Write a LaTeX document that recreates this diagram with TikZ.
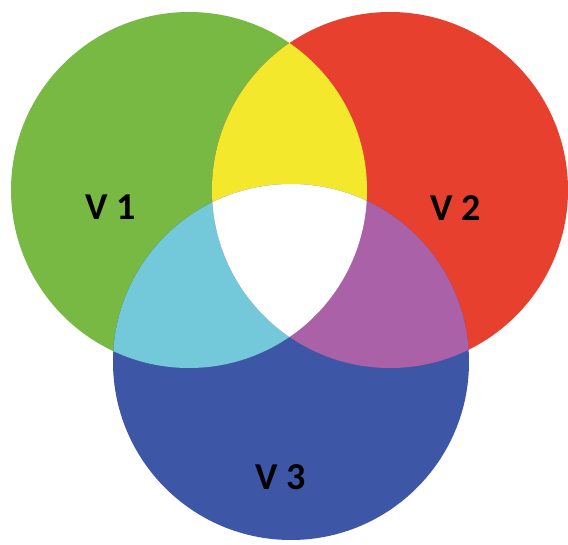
\documentclass[tikz,border=0pt]{standalone}
\usepackage{fontspec}
\setmainfont{Carlito}
\usepackage{tikz}

\definecolor{vgreen}{HTML}{77B943}
\definecolor{vred}{HTML}{E8402F}
\definecolor{vblue}{HTML}{3E56A6}
\definecolor{vyellow}{HTML}{F3E82B}
\definecolor{vcyan}{HTML}{73C8DA}
\definecolor{vpurple}{HTML}{AA61A8}

\tikzset{setlabel/.style={font=\fontsize{38}{40}\selectfont\bfseries, text=black}}

\begin{document}
\begin{tikzpicture}[x=1pt,y=-1pt]
\useasboundingbox (0,0) rectangle (568,545);
\def\rad{178}
\fill [vgreen] (189,190) circle (\rad);
\fill [vred] (390,190) circle (\rad);
\fill [vblue] (291,362) circle (\rad);
\begin{scope}
\clip (189,190) circle (\rad);
\fill [vyellow] (390,190) circle (\rad);
\fill [vcyan] (291,362) circle (\rad);
\end{scope}
\begin{scope}
\clip (390,190) circle (\rad);
\fill [vpurple] (291,362) circle (\rad);
\clip (189,190) circle (\rad);
\fill [white] (291,362) circle (\rad);
\end{scope}
\node [setlabel] (v1) at (111,207) {V 1};
\node [setlabel] (v2) at (456,208) {V 2};
\node [setlabel] (v3) at (281,477) {V 3};
\end{tikzpicture}
\end{document}
